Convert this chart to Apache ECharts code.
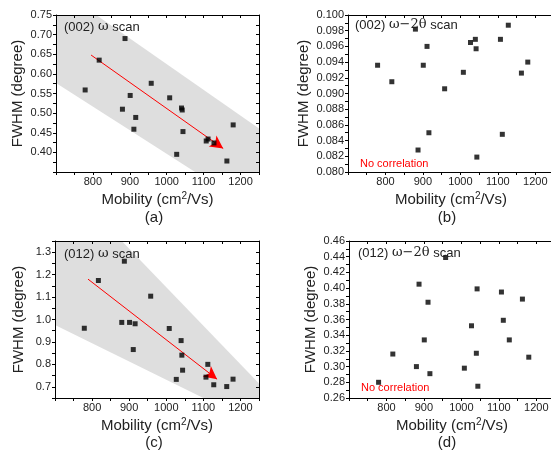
<!DOCTYPE html>
<html>
<head>
<meta charset="utf-8">
<script src="https://cdn.jsdelivr.net/npm/echarts@6/dist/echarts.min.js"></script>
<style>
  html, body { margin: 0; padding: 0; background: #fff; }
  #chart { width: 551px; height: 450px; }
</style>
</head>
<body>
<div id="chart"></div>
<script>
// same 18 samples in every panel
var mobility = [779, 817, 880, 887, 901, 911, 916, 958, 1008, 1027, 1040, 1042, 1044, 1107, 1112, 1128, 1163, 1180];
var fwhmOmega002 = [0.559, 0.635, 0.510, 0.690, 0.545, 0.459, 0.489, 0.576, 0.539, 0.395, 0.513, 0.508, 0.453, 0.429, 0.434, 0.424, 0.378, 0.470];
var fwhmTheta002 = [0.0936, 0.0915, 0.0982, 0.0828, 0.0936, 0.0960, 0.0850, 0.0906, 0.0927, 0.0965, 0.0969, 0.0957, 0.0819, 0.0969, 0.0848, 0.0987, 0.0926, 0.0940];
var fwhmOmega012 = [0.961, 1.174, 0.987, 1.260, 0.987, 0.866, 0.981, 1.104, 0.960, 0.733, 0.906, 0.841, 0.774, 0.743, 0.800, 0.709, 0.701, 0.734];
var fwhmTheta012 = [0.280, 0.316, 0.300, 0.405, 0.334, 0.382, 0.291, 0.439, 0.298, 0.352, 0.317, 0.399, 0.275, 0.395, 0.359, 0.334, 0.386, 0.312];

// grey trend bands and red arrows, in data units
var bandA = [[700, 0.577], [700, 0.75], [809, 0.75], [1250, 0.461], [1250, 0.35], [1077, 0.35]];
var bandC = [[700, 0.975], [700, 1.35], [880, 1.35], [1250, 0.715], [1250, 0.65], [1100, 0.65]];
var arrowA = [[795, 0.648], [1153, 0.410]];
var arrowC = [[789, 1.180], [1137, 0.734]];

var xRange = [700, 1250];

var font = "'Liberation Sans', Arial, sans-serif";
var chart = echarts.init(document.getElementById('chart'));

function makeLabel(dec, step, skipMin) {
    return function (v) {
        var n = Math.round(v / step);
        if (Math.abs(v - n * step) > step * 1e-3) return '';
        if (skipMin !== undefined && v <= skipMin + step * 1e-3) return '';
        return v.toFixed(dec);
    };
}

var panels = [
    {grid: {left: 56, top: 15, width: 203, height: 157}, y: [0.35, 0.75, 0.025], fmt: makeLabel(2, 0.05, 0.35), gap: 31,
        values: fwhmOmega002, band: bandA, arrow: arrowA},
    {grid: {left: 348, top: 15, width: 206, height: 157}, y: [0.080, 0.100, 0.001], fmt: makeLabel(3, 0.002), gap: 37,
        values: fwhmTheta002},
    {grid: {left: 55, top: 241, width: 204, height: 157}, y: [0.65, 1.35, 0.05], fmt: makeLabel(1, 0.1), gap: 29,
        values: fwhmOmega012, band: bandC, arrow: arrowC},
    {grid: {left: 349, top: 241, width: 206, height: 157}, y: [0.26, 0.46, 0.01], fmt: makeLabel(2, 0.02), gap: 31,
        values: fwhmTheta012}
];

var grids = [], xAxes = [], yAxes = [], series = [];
var lineStyle = {color: '#000', width: 1};

panels.forEach(function (p, i) {
    grids.push(Object.assign({outerBoundsMode: 'none'}, p.grid));
    xAxes.push({
        type: 'value', gridIndex: i, position: 'bottom', min: xRange[0], max: xRange[1], interval: 50, z: 3,
        name: 'Mobility (cm{sup|2}/Vs)', nameLocation: 'middle', nameGap: 19,
        nameTextStyle: {fontFamily: font, fontSize: 15, color: '#222',
            rich: {sup: {fontFamily: font, fontSize: 10, color: '#222', verticalAlign: 'top', padding: [0, 0, 8, 0]}}},
        axisLine: {onZero: false, lineStyle: lineStyle},
        axisTick: {inside: false, length: 3, lineStyle: lineStyle},
        axisLabel: {fontFamily: font, fontSize: 11, color: '#222', margin: 4, formatter: makeLabel(0, 100, 700)},
        splitLine: {show: false}
    });
    xAxes.push({
        type: 'value', gridIndex: i, position: 'top', min: xRange[0], max: xRange[1], interval: 50, z: 3,
        axisLine: {onZero: false, lineStyle: lineStyle},
        axisTick: {inside: true, length: 3, lineStyle: lineStyle},
        axisLabel: {show: false}, splitLine: {show: false}
    });
    yAxes.push({
        type: 'value', gridIndex: i, position: 'left', min: p.y[0], max: p.y[1], interval: p.y[2], z: 3,
        name: 'FWHM (degree)', nameLocation: 'middle', nameGap: p.gap,
        nameTextStyle: {fontFamily: font, fontSize: 15, color: '#222'},
        axisLine: {onZero: false, lineStyle: lineStyle},
        axisTick: {inside: false, length: 3, lineStyle: lineStyle},
        axisLabel: {fontFamily: font, fontSize: 11, color: '#222', margin: 4, formatter: p.fmt},
        splitLine: {show: false}
    });
    yAxes.push({
        type: 'value', gridIndex: i, position: 'right', min: p.y[0], max: p.y[1], interval: p.y[2], z: 3,
        axisLine: {onZero: false, lineStyle: lineStyle},
        axisTick: {inside: true, length: 3, lineStyle: lineStyle},
        axisLabel: {show: false}, splitLine: {show: false}
    });

    if (p.band) {
        var pts = p.band;
        series.push({
            type: 'custom', xAxisIndex: 2 * i, yAxisIndex: 2 * i, z: 1, silent: true, clip: true,
            data: [0],
            renderItem: function (params, api) {
                return {
                    type: 'polygon',
                    shape: {points: pts.map(function (q) { return api.coord(q); })},
                    style: {fill: '#dedede'}
                };
            }
        });
    }

    var scatter = {
        type: 'scatter', xAxisIndex: 2 * i, yAxisIndex: 2 * i, z: 5,
        symbol: 'rect', symbolSize: 5, itemStyle: {color: '#000'},
        data: mobility.map(function (m, k) { return [m, p.values[k]]; })
    };
    if (p.arrow) {
        scatter.markLine = {
            silent: true, animation: false,
            symbol: ['none', 'arrow'], symbolSize: [10, 13],
            label: {show: false},
            lineStyle: {color: '#ff0000', width: 1, type: 'solid'},
            data: [[{coord: p.arrow[0]}, {coord: p.arrow[1]}]]
        };
    }
    series.push(scatter);
});

function txt(x, y, text, size, color, align) {
    return {
        type: 'text', x: x, y: y, z: 10, silent: true,
        style: {
            text: text, fontFamily: font, fontSize: size, fill: color || '#222',
            align: align || 'left', verticalAlign: 'middle',
            rich: {g: {fontFamily: "'DejaVu Serif', serif", fontSize: size, fill: color || '#222'}}
        }
    };
}

chart.setOption({
    animation: false,
    backgroundColor: '#fff',
    grid: grids,
    xAxis: xAxes,
    yAxis: yAxes,
    series: series,
    graphic: [
        txt(64, 27, '(002) {g|ω} scan', 13),
        txt(355, 25, '(002) {g|ω−2θ} scan', 13),
        txt(64, 254, '(012) {g|ω} scan', 13),
        txt(358, 253, '(012) {g|ω−2θ} scan', 13),
        txt(360, 164, 'No correlation', 11, '#ff0000'),
        txt(361, 388, 'No correlation', 11, '#ff0000'),
        txt(154, 218, '(a)', 15, '#222', 'center'),
        txt(447, 218, '(b)', 15, '#222', 'center'),
        txt(154, 443, '(c)', 15, '#222', 'center'),
        txt(447, 443, '(d)', 15, '#222', 'center')
    ]
});
</script>
</body>
</html>
